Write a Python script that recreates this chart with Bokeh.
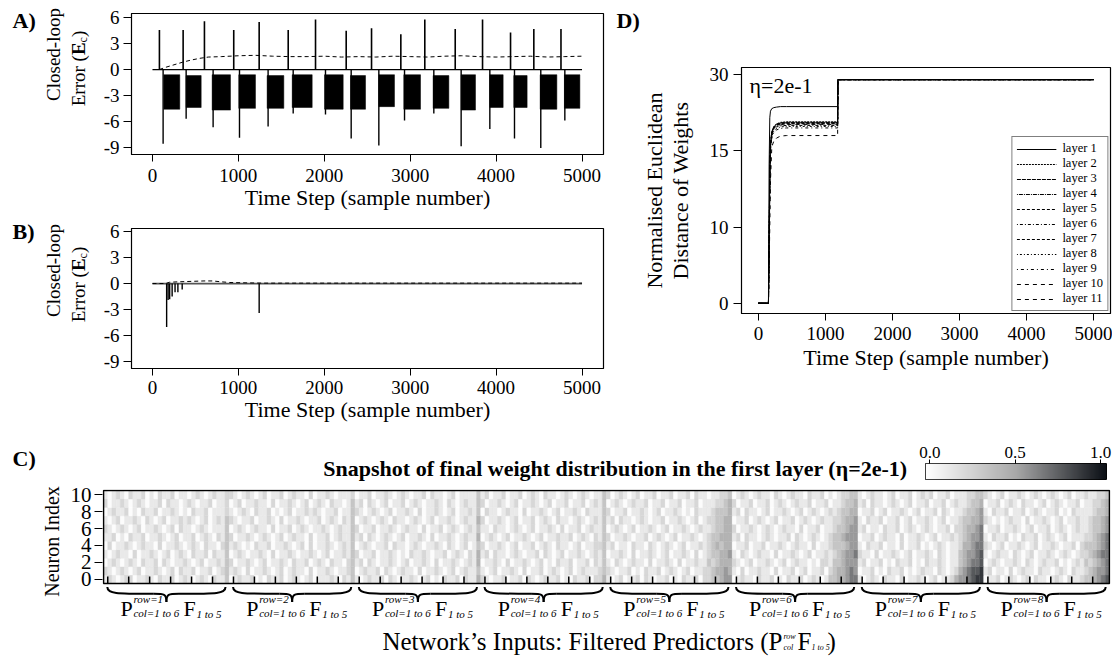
import numpy as np
from math import pi
from bokeh.plotting import figure
from bokeh.layouts import column, row
from bokeh.models import Range1d, FixedTicker, ColumnDataSource, LinearColorMapper
from bokeh.transform import linear_cmap
from bokeh.core.properties import value
from bokeh.embed import file_html
from bokeh.resources import INLINE

FONT = "Liberation Serif"

# ---------------------------------------------------------------- data
time_start, time_end = 0, 5000
time_ticks = [0, 1000, 2000, 3000, 4000, 5000]
err_ticks = [-9, -6, -3, 0, 3, 6]
err_tick_labels = ["-9", "-6", "-3", "0", "3", "6"]

# Panel A: closed-loop error, learning rate off
a_pos_t = [81, 357, 605, 946, 1242, 1580, 1898, 2255, 2550, 2891, 3170, 3524, 3842, 4168, 4439, 4755]
a_pos_v = [4.6, 4.6, 5.6, 4.6, 5.5, 4.6, 5.8, 4.5, 4.8, 4.1, 5.8, 4.7, 5.8, 4.3, 4.7, 4.7]
a_neg_t = [124, 392, 706, 1013, 1346, 1638, 2014, 2313, 2635, 2934, 3275, 3593, 3927, 4214, 4520, 4800]
a_neg_v = [-8.6, -5.7, -6.7, -7.9, -6.6, -5.1, -5.2, -8.0, -8.8, -5.9, -5.1, -8.9, -6.9, -8.0, -9.1, -5.9]
a_blk_start = [132, 392, 695, 1005, 1335, 1627, 2003, 2305, 2635, 2926, 3267, 3593, 3927, 4206, 4513, 4795]
a_blk_end = [318, 567, 908, 1199, 1529, 1859, 2220, 2480, 2817, 3120, 3450, 3760, 4082, 4361, 4707, 4975]
a_blk_high = [-0.6, -0.7, -0.6, -0.6, -0.7, -0.6, -0.6, -0.7, -0.6, -0.6, -0.7, -0.6, -0.6, -0.7, -0.6, -0.6]
a_blk_low = [-4.6, -4.4, -4.7, -4.5, -4.5, -4.4, -4.6, -4.6, -4.3, -4.6, -4.5, -4.7, -4.4, -4.4, -4.6, -4.5]
a_avg_t = [80, 150, 250, 350, 450, 550, 650, 800, 1000, 1200, 1400, 1600, 1800, 2000, 2200, 2400,
           2600, 2800, 3000, 3200, 3400, 3600, 3800, 4000, 4200, 4400, 4600, 4800, 5000]
a_avg_v = [0.0, 0.25, 0.55, 0.85, 1.1, 1.3, 1.45, 1.5, 1.6, 1.65, 1.55, 1.5, 1.5, 1.55, 1.45, 1.5,
           1.45, 1.55, 1.5, 1.45, 1.55, 1.6, 1.5, 1.45, 1.5, 1.55, 1.45, 1.5, 1.55]

# Panel B: closed-loop error, learning on
b_spike_t = [165, 182, 200, 229, 263, 296, 346, 1242]
b_spike_v = [-5.0, -1.9, -1.8, -1.5, -1.0, -1.0, -0.7, -3.4]
b_avg_t = [0, 150, 200, 300, 450, 600, 700, 800, 900, 1100, 1300, 1500, 5000]
b_avg_v = [0.0, 0.0, 0.15, 0.2, 0.25, 0.3, 0.3, 0.2, 0.12, 0.08, 0.05, 0.05, 0.05]

# Panel D: normalised euclidean distance of weights per layer
d_t = [0, 150, 160, 170, 180, 200, 230, 270, 330, 420, 1182, 1186, 5000]
d_layers = {
    "layer 1": [0, 0, 14.0, 21.5, 22.8, 23.3, 23.5, 23.6, 23.7, 23.7, 23.7, 29.0, 29.0],
    "layer 2": [0, 0, 8.0, 14.0, 16.5, 18.8, 19.8, 20.3, 20.6, 20.7, 20.7, 29.0, 29.0],
    "layer 3": [0, 0, 8.0, 14.0, 16.4, 18.7, 19.7, 20.2, 20.5, 20.6, 20.6, 29.0, 29.0],
    "layer 4": [0, 0, 7.5, 13.5, 16.2, 18.6, 19.7, 20.2, 20.4, 20.5, 20.5, 29.0, 29.0],
    "layer 5": [0, 0, 7.0, 13.0, 16.0, 18.4, 19.5, 20.0, 20.2, 20.3, 20.3, 29.0, 29.0],
    "layer 6": [0, 0, 7.0, 13.0, 15.8, 18.2, 19.2, 19.7, 19.9, 20.0, 20.0, 29.0, 29.0],
    "layer 7": [0, 0, 7.5, 13.5, 16.2, 18.5, 19.6, 20.1, 20.3, 20.4, 20.4, 29.0, 29.0],
    "layer 8": [0, 0, 6.5, 12.5, 15.5, 17.9, 18.9, 19.4, 19.7, 19.8, 19.8, 29.0, 29.0],
    "layer 9": [0, 0, 6.0, 12.0, 15.0, 17.5, 18.6, 19.1, 19.4, 19.5, 19.5, 29.0, 29.0],
    "layer 10": [0, 0, 5.0, 10.0, 13.0, 15.8, 16.9, 17.5, 17.9, 18.0, 18.0, 29.0, 29.0],
    "layer 11": [0, 0, 7.0, 13.0, 16.0, 18.3, 19.4, 19.9, 20.1, 20.2, 20.2, 29.0, 29.0],
}
d_dashes = ["solid", "2 1", "4 1", "1 1 4 1", "3 2", "1 2 3 2", "3 2", "1 2 2 2", "1 3 3 3", "4 4", "4 4"]
d_tick_vals = [0, 10, 15, 30]          # equally spaced on the original axis
d_tick_pos = [0, 1, 2, 3]

# Panel C: final weights of the first layer (11 neurons x 8 rows x 6 cols x 5 filters), grey level digit 0-9
heat_rows = [  # neuron 0 (bottom) ... neuron 10 (top)
    "121012201121021120121012102113 012112010211201210120111210213 101211202101121012010211202114 210112011202101211201021120224 101201120210112010211202233455 012110211201021120121013344566 101210211020112101201124556788 011201210120211012102112334567",
    "210121012011210120211201120123 121020112101201211020112101123 012112021012110201121012012113 101201121020112012101201211123 210112010211201210120112234454 102011211020112012011202344565 011201021120101211021012456778 120110201211021101210211234556",
    "012101210211202101121012011213 201121012011210211201210211023 120210112101201121020112101214 011210201121012010211201120213 102101211020112102011211323444 210120112101201211010221334555 120112010211201021121011345667 012101121021012112010121323456",
    "101211020112101201210211202113 012101121020112101121012011213 201120112101021121011201210214 120211012101120210120112101213 011210201121012011210201233445 102101211020112101201121234556 211020112101201121021011345567 101211021012011210121012234566",
    "020112101211020112101210211023 121010211201121012020112101213 012101120211012101121021012013 201121012011201210211012011223 120110211021012101201121234344 011201120112101211020112333455 102112011020112010121011244566 210120112101201121011202333456",
    "112010211201121012011201210213 201121012101201211020112012113 120210121012011210201121012114 012101201121012011211201210213 201121011201210120112101233444 120211012101120210121012334555 011201211020112101201121234556 102112010211201210120111223456",
    "210121012011210120211012101113 012101211020112012101121012113 201120112101211020112012101213 110211012101201121020112012113 012101201121012011210121123344 201121012101211020112011233455 120110211201210121011202234456 011201121012011201210121123345",
    "101201121021012011212101201213 210112011210201121011201210213 012101210211012101201121012114 201121012011201210211012101213 120211012101120112101201223344 011201210120112012101211223445 102112011201201121012011233445 210101211020112101201121123345",
    "012112010211201121010211201112 101210211201012011212101120113 210121012011210201121012011213 021101211020112101201121021113 201120112101201121010211123334 120211012011210120121012123344 011201201121012011202101123345 102112011201210112010211112334",
    "201121012101120211012101120112 012011211020112101201210211013 120210120112012101121021012113 201121012011210120112011201213 012101211201120112011201112234 201120112012101211201120112334 120211012101201120112012112334 011201210211012012101120112234",
    "101210211201021120110121012112 210121012011201211020112101112 011201121012101120211012011113 120112011201210211012101210113 201210120112011201120211011223 012101211021012110211201012233 101211012011201212011201112233 210120112101210121012011211223",
]
digit_weight = [0.02, 0.125, 0.23, 0.335, 0.44, 0.545, 0.65, 0.755, 0.86, 0.965]   # weight of each grey digit
n_groups, cols_per_group = 8, 30
neuron_ticks = [0, 2, 4, 6, 8, 10]
input_ticks = [0.5 + 5 * k for k in range(48)]
cbar_ticks = [0.0, 0.5, 1.0]
cbar_labels = ["0.0", "0.5", "1.0"]

# ---------------------------------------------------------------- helpers
def style(p, tick_px="19px"):
    p.outline_line_color = "black"
    p.outline_line_width = 1.2
    p.xgrid.visible = False
    p.ygrid.visible = False
    for ax in list(p.xaxis) + list(p.yaxis):
        ax.major_label_text_font = FONT
        ax.major_label_text_font_size = tick_px
        ax.major_label_text_color = "black"
        ax.axis_label_text_font = FONT
        ax.axis_label_text_font_size = "22px"
        ax.axis_label_text_font_style = "normal"
        ax.axis_label_text_color = "black"
        ax.axis_line_color = "black"
        ax.major_tick_line_color = "black"
        ax.minor_tick_line_color = None
        ax.major_tick_in = 0
        ax.major_tick_out = 7


def gutter(w, h):
    g = figure(width=w, height=h, x_range=Range1d(0, w), y_range=Range1d(0, h),
               output_backend="svg", toolbar_location=None, x_axis_location=None, y_axis_location=None,
               min_border_left=0, min_border_right=0, min_border_top=0, min_border_bottom=0)
    g.outline_line_color = None
    g.grid.visible = False
    return g


def gtext(g, h, x, ytop, text, size=22, style_="normal", angle=0.0, align="left", base="middle"):
    g.text(x=[x], y=[h - ytop], text=[text], angle=angle, text_font=value(FONT),
           text_font_size=value(f"{size}px"), text_font_style=value(style_),
           text_align=value(align), text_baseline=value(base), text_color="black")


def err_ylabel(g, h, ymid):
    S, s = 19, 12
    gtext(g, h, 53, ymid - 10, "Closed-loop", size=S, angle=pi / 2, align="center")
    w_err, w_E, w_c = 2.693 * S, 0.667 * S, 0.444 * s
    L = w_err + w_E + w_c + 0.333 * S
    y0 = ymid + 4 + L / 2      # bottom end of the rotated text (distance from top)
    gtext(g, h, 78, y0, "Error (", size=S, angle=pi / 2)
    gtext(g, h, 78, y0 - w_err, "E", size=S, style_="bold", angle=pi / 2)
    gtext(g, h, 82, y0 - w_err - w_E, "c", size=s, angle=pi / 2)
    gtext(g, h, 78, y0 - w_err - w_E - w_c, ")", size=S, angle=pi / 2)


# ---------------------------------------------------------------- left gutter (A, B)
HT = 430
gAB = gutter(100, HT)
gtext(gAB, HT, 12, 20, "A)", style_="bold")
gtext(gAB, HT, 12, 231, "B)", style_="bold")
err_ylabel(gAB, HT, 64)
err_ylabel(gAB, HT, 280)

# ---------------------------------------------------------------- panel A
xA = (-244, 5250)
pA = figure(width=510, height=218, x_range=Range1d(*xA), y_range=Range1d(-9.85, 6.5),
            output_backend="svg", toolbar_location=None,
            min_border_left=31, min_border_right=7, min_border_top=13, min_border_bottom=64)
style(pA)
pA.xaxis.ticker = FixedTicker(ticks=time_ticks)
pA.xaxis.major_label_standoff = 7
pA.xaxis.axis_label = "Time Step (sample number)"
pA.xaxis.axis_label_standoff = 0
pA.yaxis.ticker = FixedTicker(ticks=err_ticks)
pA.yaxis.major_label_overrides = dict(zip(err_ticks, err_tick_labels))
pA.yaxis.major_tick_out = 8
pA.yaxis.major_label_standoff = 4
pA.line([time_start, time_end], [0, 0], line_color="black", line_width=1.2)
pA.quad(left=a_blk_start, right=a_blk_end, top=a_blk_high, bottom=a_blk_low,
        fill_color="black", line_color="black", line_width=0.5)
pA.segment(x0=a_pos_t, y0=[0] * len(a_pos_t), x1=a_pos_t, y1=a_pos_v, line_color="black", line_width=1.6)
pA.segment(x0=a_neg_t, y0=[0] * len(a_neg_t), x1=a_neg_t, y1=a_neg_v, line_color="black", line_width=1.4)
pA.line(a_avg_t, a_avg_v, line_color="black", line_dash="4 3", line_width=1)

# ---------------------------------------------------------------- panel B
pB = figure(width=510, height=212, x_range=Range1d(*xA), y_range=Range1d(-9.8, 6.35),
            output_backend="svg", toolbar_location=None,
            min_border_left=31, min_border_right=7, min_border_top=10, min_border_bottom=62)
style(pB)
pB.xaxis.ticker = FixedTicker(ticks=time_ticks)
pB.xaxis.major_label_standoff = 5
pB.xaxis.axis_label = "Time Step (sample number)"
pB.xaxis.axis_label_standoff = 0
pB.yaxis.ticker = FixedTicker(ticks=err_ticks)
pB.yaxis.major_label_overrides = dict(zip(err_ticks, err_tick_labels))
pB.yaxis.major_tick_out = 8
pB.yaxis.major_label_standoff = 4
pB.line([time_start, time_end], [0, 0], line_color="#555555", line_width=1.8)
pB.segment(x0=b_spike_t, y0=[0] * len(b_spike_t), x1=b_spike_t, y1=b_spike_v, line_color="black", line_width=1.4)
pB.line(b_avg_t, b_avg_v, line_color="black", line_dash="4 3", line_width=1)

# ---------------------------------------------------------------- gutter D
gD = gutter(90, HT)
gtext(gD, HT, 6, 20, "D)", style_="bold")
gtext(gD, HT, 44, 190, "Normalised Euclidean", angle=pi / 2, align="center")
gtext(gD, HT, 70, 190, "Distance of Weights", angle=pi / 2, align="center")

# ---------------------------------------------------------------- panel D
xD = (-252, 5252)
yD = (-0.135, 3.093)
pD = figure(width=412, height=HT, x_range=Range1d(*xD), y_range=Range1d(*yD),
            output_backend="svg", toolbar_location=None,
            min_border_left=41, min_border_right=2, min_border_top=67, min_border_bottom=117)
style(pD)
pD.xaxis.ticker = FixedTicker(ticks=time_ticks)
pD.xaxis.major_label_standoff = 6
pD.xaxis.axis_label = "Time Step (sample number)"
pD.xaxis.axis_label_standoff = 2
pD.yaxis.ticker = FixedTicker(ticks=d_tick_pos)
pD.yaxis.major_label_overrides = {pos: str(v) for pos, v in zip(d_tick_pos, d_tick_vals)}
pD.yaxis.major_tick_out = 8
pD.yaxis.major_label_standoff = 5
for (name, vals), dash in zip(d_layers.items(), d_dashes):
    disp = np.interp(vals, d_tick_vals, d_tick_pos)
    pD.line(d_t, disp, line_color="black", line_width=1, line_dash=dash, legend_label=name)
lg = pD.legend[0]
lg.location = "bottom_right"
lg.border_line_color = "black"
lg.border_line_width = 1
lg.label_text_font = FONT
lg.label_text_font_size = "12.5px"
lg.label_text_color = "black"
lg.label_text_line_height = 1.0
lg.glyph_width = 40
lg.glyph_height = 10
lg.label_height = 10
lg.label_standoff = 6
lg.spacing = 0
lg.padding = 4
lg.margin = 2
pD.text(x=[xD[0]], y=[yD[1]], text=["η=2e-1"], x_offset=8, y_offset=5, text_font=value(FONT),
        text_font_size=value("22px"), text_align=value("left"), text_baseline=value("top"), text_color="black")

# ---------------------------------------------------------------- colour map
anch_v = [0.0, 0.5, 1.0]
anch_rgb = [(255, 255, 255), (168, 168, 168), (10, 14, 20)]
lv = np.linspace(0, 1, 256)
palette = ["#%02x%02x%02x" % tuple(int(round(np.interp(u, anch_v, [c[i] for c in anch_rgb]))) for i in range(3))
           for u in lv]
mapper = LinearColorMapper(palette=palette, low=0, high=1)

# ---------------------------------------------------------------- header of C (label, title, colour bar)
HH = 54
pH = gutter(912, HH)
gtext(pH, HH, 12, 28, "C)", style_="bold")
gtext(pH, HH, 907, 38, "Snapshot of final weight distribution in the first layer (η=2e-1)",
      style_="bold", align="right")

cb0, cb1 = -0.025, 1.035
pCB = figure(width=200, height=HH, x_range=Range1d(cb0, cb1), y_range=Range1d(0, 1),
             output_backend="svg", toolbar_location=None, x_axis_location="above", y_axis_location=None,
             min_border_left=13, min_border_right=6, min_border_top=33, min_border_bottom=5)
pCB.grid.visible = False
pCB.outline_line_color = "black"
pCB.image(image=[lv.reshape(1, -1)], x=cb0, y=0, dw=cb1 - cb0, dh=1, color_mapper=mapper)
pCB.xaxis.ticker = FixedTicker(ticks=cbar_ticks)
pCB.xaxis.major_label_overrides = dict(zip(cbar_ticks, cbar_labels))
pCB.xaxis.major_label_text_font = FONT
pCB.xaxis.major_label_text_font_size = "17px"
pCB.xaxis.major_label_text_color = "black"
pCB.xaxis.major_tick_in = 0
pCB.xaxis.major_tick_out = 4
pCB.xaxis.axis_line_color = None
pCB.xaxis.minor_tick_line_color = None
pCB.xaxis.major_label_standoff = 2

# ---------------------------------------------------------------- panel C heatmap
HC = 172
gC = gutter(66, HC)
gtext(gC, HC, 51, 57, "Neuron Index", size=20, angle=pi / 2, align="center")

rows_digits = [r.replace(" ", "") for r in heat_rows]
n_rows, n_cols = len(rows_digits), n_groups * cols_per_group
hx, hy, hv = [], [], []
for j, r in enumerate(rows_digits):
    for i, ch in enumerate(r[:n_cols]):
        hx.append(i)
        hy.append(j)
        hv.append(digit_weight[int(ch)])
src = ColumnDataSource(dict(x=hx, y=hy, v=hv))

FW = 1008                      # heatmap frame width (px)
xr0, xr1 = -0.75, n_cols - 0.25
PXU = 93 / n_rows              # px per neuron row
frame_h = HC - 5 - 1
ytop = n_rows - 0.5 + 1 / PXU
ybot = ytop - frame_h / PXU
pC = figure(width=1046, height=HC, x_range=Range1d(xr0, xr1), y_range=Range1d(ybot, ytop),
            output_backend="svg", toolbar_location=None, x_axis_location=None,
            min_border_left=36, min_border_right=2, min_border_top=5, min_border_bottom=1)
pC.outline_line_color = None
pC.grid.visible = False
cmap = linear_cmap("v", palette, 0, 1)
pC.rect(x="x", y="y", width=1, height=1, source=src, fill_color=cmap, line_color=cmap, line_width=0.4)
pC.rect(x=[(n_cols - 1) / 2], y=[(n_rows - 1) / 2], width=[n_cols], height=[n_rows],
        fill_color=None, line_color="black", line_width=1.5)
pC.segment(x0=input_ticks, y0=[-0.5] * len(input_ticks), x1=input_ticks,
           y1=[-0.5 + 7 / PXU] * len(input_ticks), line_color="black", line_width=1.5)
pC.yaxis.ticker = FixedTicker(ticks=neuron_ticks)
pC.yaxis.major_label_text_font = FONT
pC.yaxis.major_label_text_font_size = "21px"
pC.yaxis.major_label_text_color = "black"
pC.yaxis.axis_line_color = None
pC.yaxis.major_tick_out = 8
pC.yaxis.major_tick_in = 0
pC.yaxis.minor_tick_line_color = None
pC.yaxis.major_label_standoff = 3


def ybelow(px):
    return -0.5 - px / PXU


def px2x(px):
    return xr0 + (px - 102) * (xr1 - xr0) / FW


# braces under each group of filtered predictors
gL = [g * cols_per_group - 0.5 + 0.9 for g in range(n_groups)]
gR = [(g + 1) * cols_per_group - 0.5 - 0.9 for g in range(n_groups)]
gCn = [g * cols_per_group + (cols_per_group - 1) / 2 for g in range(n_groups)]
y0b, y1b, y2b = ybelow(3.5), ybelow(10.3), ybelow(18.6)
N = n_groups
bk = dict(line_color="black", line_width=2)
pC.bezier(x0=gL, y0=[y0b] * N, x1=[c - 3 for c in gCn], y1=[y1b] * N,
          cx0=gL, cy0=[y1b] * N, cx1=[l + 2 for l in gL], cy1=[y1b] * N, **bk)
pC.bezier(x0=[c - 3 for c in gCn], y0=[y1b] * N, x1=gCn, y1=[y2b] * N,
          cx0=[c - 0.5 for c in gCn], cy0=[y1b] * N, cx1=gCn, cy1=[y1b] * N, **bk)
pC.bezier(x0=gCn, y0=[y2b] * N, x1=[c + 3 for c in gCn], y1=[y1b] * N,
          cx0=gCn, cy0=[y1b] * N, cx1=[c + 0.5 for c in gCn], cy1=[y1b] * N, **bk)
pC.bezier(x0=[c + 3 for c in gCn], y0=[y1b] * N, x1=gR, y1=[y0b] * N,
          cx0=[r - 2 for r in gR], cy0=[y1b] * N, cx1=gR, cy1=[y1b] * N, **bk)


def ctext(x, y, text, size, xo=0, italic=False, align="left"):
    pC.text(x=x, y=y, text=text, x_offset=xo, text_font=value(FONT), text_font_size=value(f"{size}px"),
            text_font_style=value("italic" if italic else "normal"), text_align=value(align),
            text_baseline=value("middle"), text_color="black")


ctext(gCn, [ybelow(24.6)] * N, ["P"] * N, 22, xo=-46)
ctext(gCn, [ybelow(15.6)] * N, [f"row={g + 1}" for g in range(N)], 11, xo=-33, italic=True)
ctext(gCn, [ybelow(29.6)] * N, ["col=1 to 6"] * N, 11, xo=-33, italic=True)
ctext(gCn, [ybelow(24.6)] * N, ["F"] * N, 22, xo=17)
ctext(gCn, [ybelow(30.6)] * N, ["1 to 5"] * N, 11, xo=30, italic=True)

# x-axis title of C (composite, with super/subscripts)
yl = ybelow(58)
ctext([px2x(768)], [yl], ["Network’s Inputs: Filtered Predictors ("], 25, align="right")
ctext([px2x(768)], [yl], ["P"], 25)
ctext([px2x(783)], [yl + 5 / PXU], ["row"], 8, italic=True)
ctext([px2x(783)], [yl - 6 / PXU], ["col"], 8, italic=True)
ctext([px2x(797)], [yl], ["F"], 25)
ctext([px2x(811)], [yl - 6 / PXU], ["1 to 5"], 8, italic=True)
ctext([px2x(827)], [yl], [")"], 25)

# ---------------------------------------------------------------- layout
top = row(column(gAB), column(pA, pB), column(gD), column(pD))
header = row(column(pH), column(pCB))
heat = row(column(gC), column(pC))
layout = column(top, header, heat)
open("out.html", "w").write(file_html(layout, INLINE))
